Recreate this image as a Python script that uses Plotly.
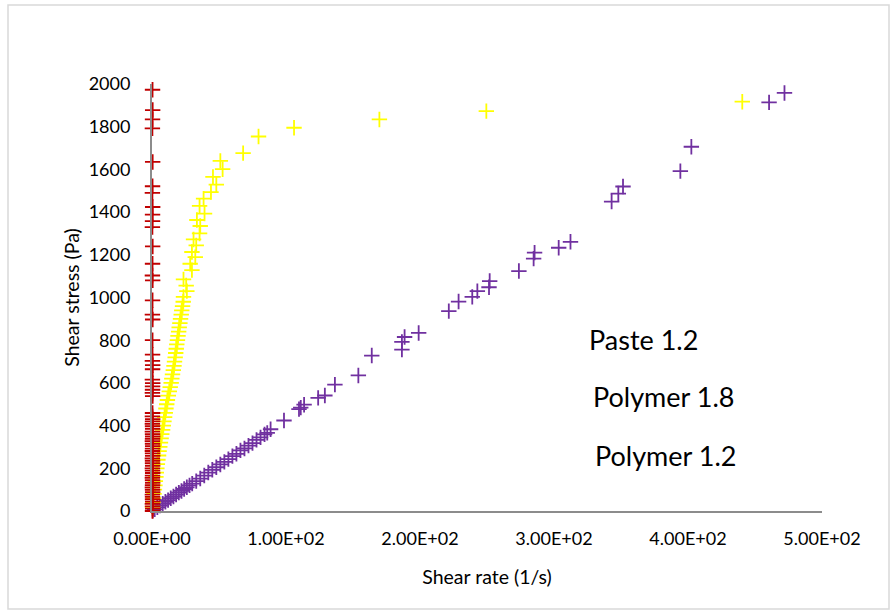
import plotly.graph_objects as go

# Flow curves: shear stress (Pa) against shear rate (1/s)

# Paste 1.2 — stress rises with almost no measurable shear rate
paste_rate = [0.4, 0.5, 0.4, 0.3, 0.5, 0.4, 0.3, 0.5, 0.4, 0.4, 0.3, 0.5, 0.4, 0.3, 0.5,
              0.4, 0.3, 0.5, 0.4, 0.4, 0.3, 0.5, 0.4, 0.3, 0.5, 0.4, 0.4, 0.3, 0.5, 0.4,
              0.3, 0.5, 0.4, 0.3, 0.4, 0.5, 0.3, 0.4, 0.5, 0.4, 0.3, 0.4, 0.5, 0.4, 0.3,
              0.4, 0.5, 0.3, 0.4, 0.4, 0.5, 0.3, 0.4, 0.5, 0.4, 0.3, 0.4, 0.5, 0.4, 0.3,
              0.4, 0.5, 0.3, 0.4, 0.4, 0.5, 0.3, 0.4, 0.5, 0.4]
paste_stress = [1973, 1878, 1834, 1792, 1635, 1521, 1490, 1424, 1388, 1358, 1330, 1239, 1158,
                1103, 1080, 987, 920, 897, 800, 732, 703, 683, 664, 615, 599, 584, 568, 553,
                538, 459, 443, 430, 420, 408, 397, 385, 372, 360, 349, 338, 327, 315, 304,
                292, 281, 270, 258, 246, 235, 224, 212, 200, 189, 178, 166, 155, 144, 132,
                121, 110, 99, 88, 77, 66, 55, 44, 33, 22, 11, 0]

# Polymer 1.8 — shear-thinning curve
poly18_rate = [0.4, 0.8, 1.1, 1.5, 1.8, 2.2, 2.5, 2.9, 3.2, 3.6, 4.0, 4.4, 4.9, 5.3, 5.8,
               6.3, 6.8, 7.3, 7.9, 8.4, 8.9, 9.4, 9.9, 10.4, 11.0, 11.5, 12.2, 12.9, 13.6,
               14.3, 14.8, 15.3, 15.9, 16.4, 16.8, 17.3, 17.7, 18.1, 18.5, 19.0, 19.4, 19.9,
               20.3, 20.8, 21.3, 21.8, 22.2, 22.8, 23.3, 23.5, 26.0, 25.5, 23.5, 28.5, 29.8,
               32.3, 29.8, 33.0, 31.0, 35.5, 36.0, 33.5, 39.2, 35.5, 38.5, 44.0, 48.0, 45.5,
               52.7, 51.0, 68.0, 79.5, 106.0, 169.7, 249.5, 440.5]
poly18_stress = [20, 40, 60, 80, 100, 120, 140, 160, 180, 200, 220, 240, 260, 280, 300,
                 320, 340, 360, 380, 400, 420, 440, 460, 480, 500, 520, 540, 560, 580,
                 600, 620, 640, 660, 680, 700, 720, 740, 760, 780, 800, 820, 840,
                 860, 880, 900, 920, 940, 960, 980, 1003, 1030, 1056, 1085, 1158, 1128,
                 1189, 1213, 1244, 1272, 1300, 1335, 1363, 1393, 1429, 1463, 1494, 1529, 1565,
                 1601, 1640, 1676, 1754, 1795, 1834, 1873, 1917]

# Polymer 1.2 — close to linear response
poly12_rate = [0.5, 2, 4, 6, 8, 10, 12, 14, 16, 18, 20, 22, 24, 26, 28, 30, 33, 36, 39,
               42, 45, 48, 51, 54, 57, 60, 63, 66, 69, 72, 75, 78, 81, 84, 86, 88.5, 98.5,
               109.7, 113.5, 111, 124, 129, 136.5, 154, 164, 186.5, 186.5, 188.5, 199,
               221.5, 228.8, 239, 242.8, 251.5, 252, 273.8, 284.8, 285.5, 303.5, 312.3,
               343, 348, 351.5, 394.3, 402.5, 460.5, 472.0]
poly12_stress = [2, 8, 17, 25, 34, 43, 51, 60, 68, 77, 86, 94, 103, 111, 120, 128, 140, 152,
                 166, 180, 193, 205, 218, 230, 243, 257, 268, 284, 293, 306, 318, 333, 345,
                 359, 366, 383, 424, 477, 498, 484, 530, 541, 592, 635, 728, 756, 792, 815,
                 834, 936, 981, 1003, 1030, 1048, 1077, 1124, 1182, 1210, 1233, 1261,
                 1449, 1487, 1520, 1592, 1706, 1914, 1958]

x_ticks = [0, 100, 200, 300, 400, 500]
x_tick_labels = ["0.00E+00", "1.00E+02", "2.00E+02", "3.00E+02", "4.00E+02", "5.00E+02"]
y_ticks = [0, 200, 400, 600, 800, 1000, 1200, 1400, 1600, 1800, 2000]

text_labels = ["Paste 1.2", "Polymer 1.8", "Polymer 1.2"]

FONT = "Lato"


def plus_marker(color):
    return dict(symbol="cross-thin", size=11, line=dict(color=color, width=1.8))


fig = go.Figure()
fig.add_trace(go.Scatter(x=poly12_rate, y=poly12_stress, mode="markers", name="Polymer 1.2",
                         marker=plus_marker("#7030a0"), cliponaxis=False))
fig.add_trace(go.Scatter(x=poly18_rate, y=poly18_stress, mode="markers", name="Polymer 1.8",
                         marker=plus_marker("#ffff00"), cliponaxis=False))
fig.add_trace(go.Scatter(x=paste_rate, y=paste_stress, mode="markers", name="Paste 1.2",
                         marker=plus_marker("#c00000"), cliponaxis=False))

axis_common = dict(showgrid=False, zeroline=False, showline=True, linecolor="#8c8c8c",
                   linewidth=2, ticks="", tickfont=dict(family=FONT, size=18, color="#000"))

fig.update_layout(
    width=896, height=614,
    margin=dict(l=152, r=74, t=84, b=103),
    paper_bgcolor="white", plot_bgcolor="white",
    showlegend=False,
    font=dict(family=FONT, color="#000"),
    xaxis=dict(range=[0, 500], tickvals=x_ticks, ticktext=x_tick_labels,
               ticklabelstandoff=10,
               title=dict(text="Shear rate (1/s)", font=dict(family=FONT, size=19.5, color="#000"),
                          standoff=23),
               **axis_common),
    yaxis=dict(range=[0, 2000], tickvals=y_ticks, ticklabelstandoff=16,
               title=dict(text="Shear stress (Pa)", font=dict(family=FONT, size=19.5, color="#000"),
                          standoff=4),
               **axis_common),
)

# free-standing text labels on the right of the plot
label_pos = [(587, 339), (591, 397), (593, 455)]
for txt, (px, py) in zip(text_labels, label_pos):
    fig.add_annotation(text=txt, xref="paper", yref="paper",
                       x=(px - 152) / (896 - 152 - 74), y=(511 - py) / (511 - 84),
                       xanchor="left", yanchor="middle", showarrow=False,
                       font=dict(family=FONT, size=27, color="#000"))

# light outer frame around the chart
fig.add_shape(type="rect", xref="paper", yref="paper",
              x0=(8 - 152) / 670, x1=(889 - 152) / 670,
              y0=(511 - 609) / 427, y1=(511 - 5) / 427,
              line=dict(color="#d9d9d9", width=1.5), fillcolor="rgba(0,0,0,0)", layer="below")

fig.write_html("out.html", config={"displayModeBar": False})
